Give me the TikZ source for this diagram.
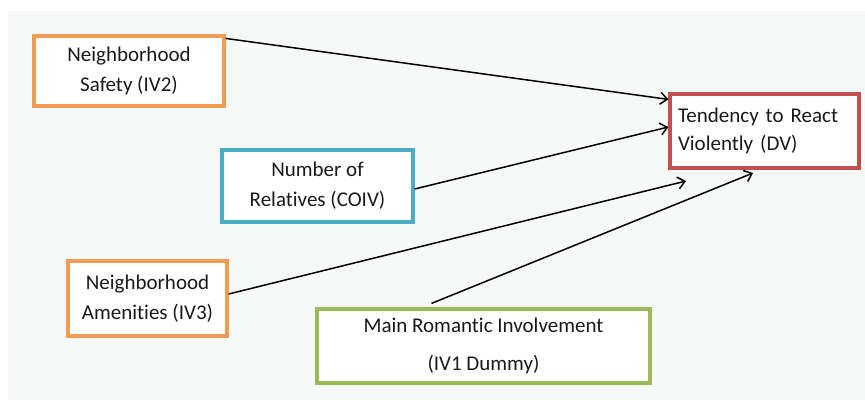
\documentclass[tikz,border=0pt]{standalone}
\usepackage{fontspec}
\setmainfont{Carlito}[Ligatures={NoCommon}]
\usetikzlibrary{arrows.meta}
\definecolor{bggray}{HTML}{F7F8F8}
\definecolor{boxorange}{HTML}{F29B51}
\definecolor{boxblue}{HTML}{4BACC6}
\definecolor{boxred}{HTML}{C0504D}
\definecolor{boxgreen}{HTML}{9BBB59}
\definecolor{txt}{HTML}{1A1A1A}
\tikzset{
  varbox/.style={draw, line width=3.2pt, fill=white, text=txt, align=center,
    font=\fontsize{21}{30}\selectfont, inner sep=0pt},
  link/.style={line width=1.5pt, -{Straight Barb[length=7pt,width=12pt,line width=1.5pt]}, black}
}
\begin{document}
\begin{tikzpicture}[x=1pt,y=-1pt]
\useasboundingbox (0,0) rectangle (865,400);
\fill[white] (0,0) rectangle (865,400);
\fill[bggray] (8,11) rectangle (865,400);

\node[varbox, draw=boxorange, minimum width=190pt, minimum height=70pt] (s) at (129,71) {Neighborhood\\Safety (IV2)};
\node[varbox, draw=boxblue, minimum width=191pt, minimum height=72pt] (r) at (317.5,186) {Number of\\Relatives (COIV)};
\node[varbox, draw=boxorange, minimum width=159pt, minimum height=75pt] (a) at (147.5,298.5) {Neighborhood\\Amenities (IV3)};
\node[varbox, draw=boxgreen, minimum width=333pt, minimum height=74pt, font=\fontsize{21}{38}\selectfont] (m) at (483.5,346) {Main Romantic Involvement\\(IV1 Dummy)};
\node[varbox, draw=boxred, minimum width=189pt, minimum height=74pt, align=left, text width=173pt, font=\fontsize{21}{28}\selectfont] (t) at (764.5,131) {Tendency to React\\Violently (DV)};

\coordinate (ea) at (686,181);
\coordinate (em) at (753,173);

\draw[link] ([yshift=-4pt]s.north east) -- ([yshift=-7pt]t.north west);
\draw[link] ([yshift=-3pt]r.east) -- ([yshift=4pt]t.west);
\draw[link] ([yshift=4.5pt]a.east) -- (ea);
\draw[link] ([xshift=-52pt,yshift=4pt]m.north) -- (em);
\end{tikzpicture}
\end{document}
